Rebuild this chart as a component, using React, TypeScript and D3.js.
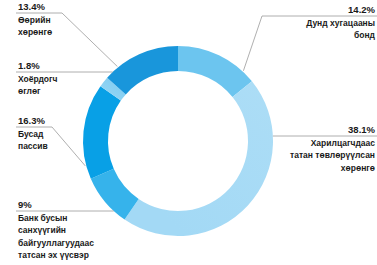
import React, { useEffect, useRef } from "react";
import * as d3 from "d3";

// clockwise from 12 o'clock
const segmentNames = ["bond", "deposit", "nbfi", "other", "subord", "equity"];
const segmentValues = [14.2, 45.3, 9, 16.3, 1.8, 13.4];
const valueLabels = ["14.2%", "38.1%", "9%", "16.3%", "1.8%", "13.4%"];
const labelLines = [
  ["Дунд хугацааны", "бонд"],
  ["Харилцагчдаас", "татан төвлөрүүлсан", "хөрөнгө"],
  ["Банк бусын", "санхүүгийн", "байгууллагуудаас", "татсан эх үүсвэр"],
  ["Бусад", "пассив"],
  ["Хоёрдогч", "өглөг"],
  ["Өөрийн", "хөрөнгө"],
];
const startColors = ["#6cc5ef", "#acddf6", "#8dd2f3", "#9ad7f5", "#8fd3f3", "#1996db"];
const endColors = ["#0a8ad4", "#a3d9f5", "#36b3eb", "#08a0e6", "#86cff2", "#0a82cc"];

const W = 377;
const H = 265;

const App = () => {
  const ref = useRef<SVGSVGElement>(null);

  useEffect(() => {
    const svg = d3.select(ref.current).attr("viewBox", [0, 0, W, H]);
    svg.selectAll("*").remove();

    const cx = 178;
    const cy = 141;
    const outer = 95;
    const inner = 70;

    const pie = d3.pie<number>().sort(null).value((d) => d);
    const arcs = pie(segmentValues);
    const arc = d3.arc<d3.PieArcDatum<number>>().innerRadius(inner).outerRadius(outer);

    const defs = svg.append("defs");
    const pt = (a: number, r: number) => [cx + r * Math.sin(a), cy - r * Math.cos(a)];

    arcs.forEach((d, i) => {
      const mid = (inner + outer) / 2;
      const [x1, y1] = pt(d.startAngle, mid);
      const [x2, y2] = pt(d.endAngle, mid);
      const g = defs.append("linearGradient")
        .attr("id", "grad-" + segmentNames[i])
        .attr("gradientUnits", "userSpaceOnUse")
        .attr("x1", x1).attr("y1", y1).attr("x2", x2).attr("y2", y2);
      g.append("stop").attr("offset", "0%").attr("stop-color", startColors[i]);
      g.append("stop").attr("offset", "100%").attr("stop-color", endColors[i]);
    });

    svg.append("g")
      .attr("transform", `translate(${cx},${cy})`)
      .selectAll("path")
      .data(arcs)
      .join("path")
      .attr("d", arc)
      .attr("fill", (d, i) => `url(#grad-${segmentNames[i]})`);

    // lineTo: angle where the leader meets the ring, null = straight across
    const layout = [
      { x: 375, y: 13, side: "right", lineTo: 0.75, lineStart: 262 },
      { x: 375, y: 133, side: "right", lineTo: null, lineStart: 0 },
      { x: 18, y: 208, side: "left", lineTo: null, lineStart: 0 },
      { x: 18, y: 124, side: "left", lineTo: 4.45, lineStart: 52 },
      { x: 18, y: 69, side: "left", lineTo: null, lineStart: 0 },
      { x: 18, y: 10, side: "left", lineTo: 5.6, lineStart: 62 },
    ];

    const font = "'Liberation Sans Narrow', 'Arial Narrow', 'Liberation Sans', sans-serif";
    const labels = svg.append("g").attr("font-family", font).attr("font-weight", "bold")
      .attr("fill", "#1a1a1a");
    const leaders = svg.append("g").attr("stroke", "#9a9a9a").attr("stroke-width", 0.8).attr("fill", "none");

    layout.forEach((l, i) => {
      const anchor = l.side === "right" ? "end" : "start";
      labels.append("text").attr("x", l.x).attr("y", l.y).attr("text-anchor", anchor)
        .attr("font-size", 9.5).text(valueLabels[i]);
      labelLines[i].forEach((t, j) => {
        labels.append("text").attr("x", l.x).attr("y", l.y + 12.5 + j * 12.5)
          .attr("text-anchor", anchor).attr("font-size", 8.5).text(t);
      });
      const ly = l.y + 3;
      const edge = l.side === "right" ? W : 16;
      let pts: number[][];
      if (l.lineTo === null) {
        const dx = Math.sqrt(Math.max(0, outer * outer - (ly - cy) * (ly - cy)));
        const rx = l.side === "right" ? cx + dx : cx - dx;
        pts = [[edge, ly], [rx, ly]];
      } else {
        const [tx, ty] = pt(l.lineTo, outer + 1);
        pts = [[edge, ly], [l.lineStart, ly], [tx, ty]];
      }
      leaders.append("polyline").attr("points", pts.map((p) => p.join(",")).join(" "));
    });
  }, []);

  return (
    <svg ref={ref} width={W} height={H}
      style={{ position: "absolute", left: 0, top: 0, background: "#fff" }}></svg>
  );
};

export default App;
